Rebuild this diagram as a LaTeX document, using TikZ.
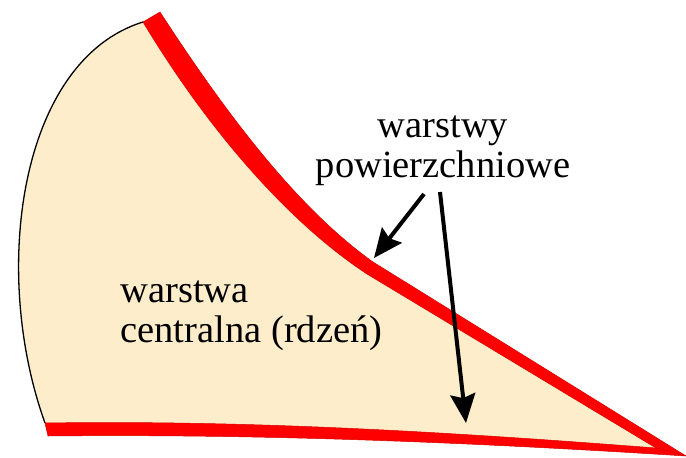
\documentclass[tikz,border=0pt]{standalone}
\usepackage{fontspec}
\setmainfont{Liberation Serif}
\usetikzlibrary{arrows.meta}
\definecolor{RdzenCream}{HTML}{FDEDCA}
\definecolor{WarstwaRed}{HTML}{FF0000}

\begin{document}
\begin{tikzpicture}[x=1pt,y=-1pt,line join=round,
    band/.style={fill=WarstwaRed,draw=WarstwaRed!85!black,line width=0.5pt},
    pointer/.style={line width=4pt,-{Stealth[length=29pt,width=25pt,inset=4pt]}},
    lbl/.style={font=\fontsize{38.5}{40}\selectfont}]
  \useasboundingbox (0,0) rectangle (686,458);
  % --- rdzen (cala powierzchnia przekroju) ---
  \fill[RdzenCream] (143,22) .. controls (20,60) and (-10,270) .. (45,423)
    -- (48,436) .. controls (250,434) and (450,441) .. (686,456)
    -- (373,262) .. controls (300,210) and (230,120) .. (160,12) -- cycle;
  % --- warstwa gorna (z zalamaniem) ---
  \draw[band] (143,22) -- (160,12) .. controls (230,120) and (300,210) .. (373,262)
    -- (686,456) -- (656,448) -- (367,274)
    .. controls (285,220) and (205,125) .. (143,22) -- cycle;
  % --- warstwa dolna ---
  \draw[band] (45,423) .. controls (250,420) and (450,432) .. (656,448)
    -- (686,456) .. controls (450,441) and (250,434) .. (48,436) -- cycle;
  % lewa krawedz
  \draw[line width=1.3pt] (143,22) .. controls (20,60) and (-10,270) .. (45,423);
  % --- opisy ---
  \node[lbl,align=center] (surf) at (443,151) {warstwy\\powierzchniowe};
  \node[lbl,align=left,anchor=west] (core) at (117,316) {warstwa\\centralna (rdzeń)};
  \coordinate (s1) at (424,194);
  \coordinate (s2) at (440,192);
  \coordinate (kink) at (374,258);
  \coordinate (base) at (466,423);
  \draw[pointer] (s1) -- (kink);
  \draw[pointer] (s2) -- (base);
\end{tikzpicture}
\end{document}
